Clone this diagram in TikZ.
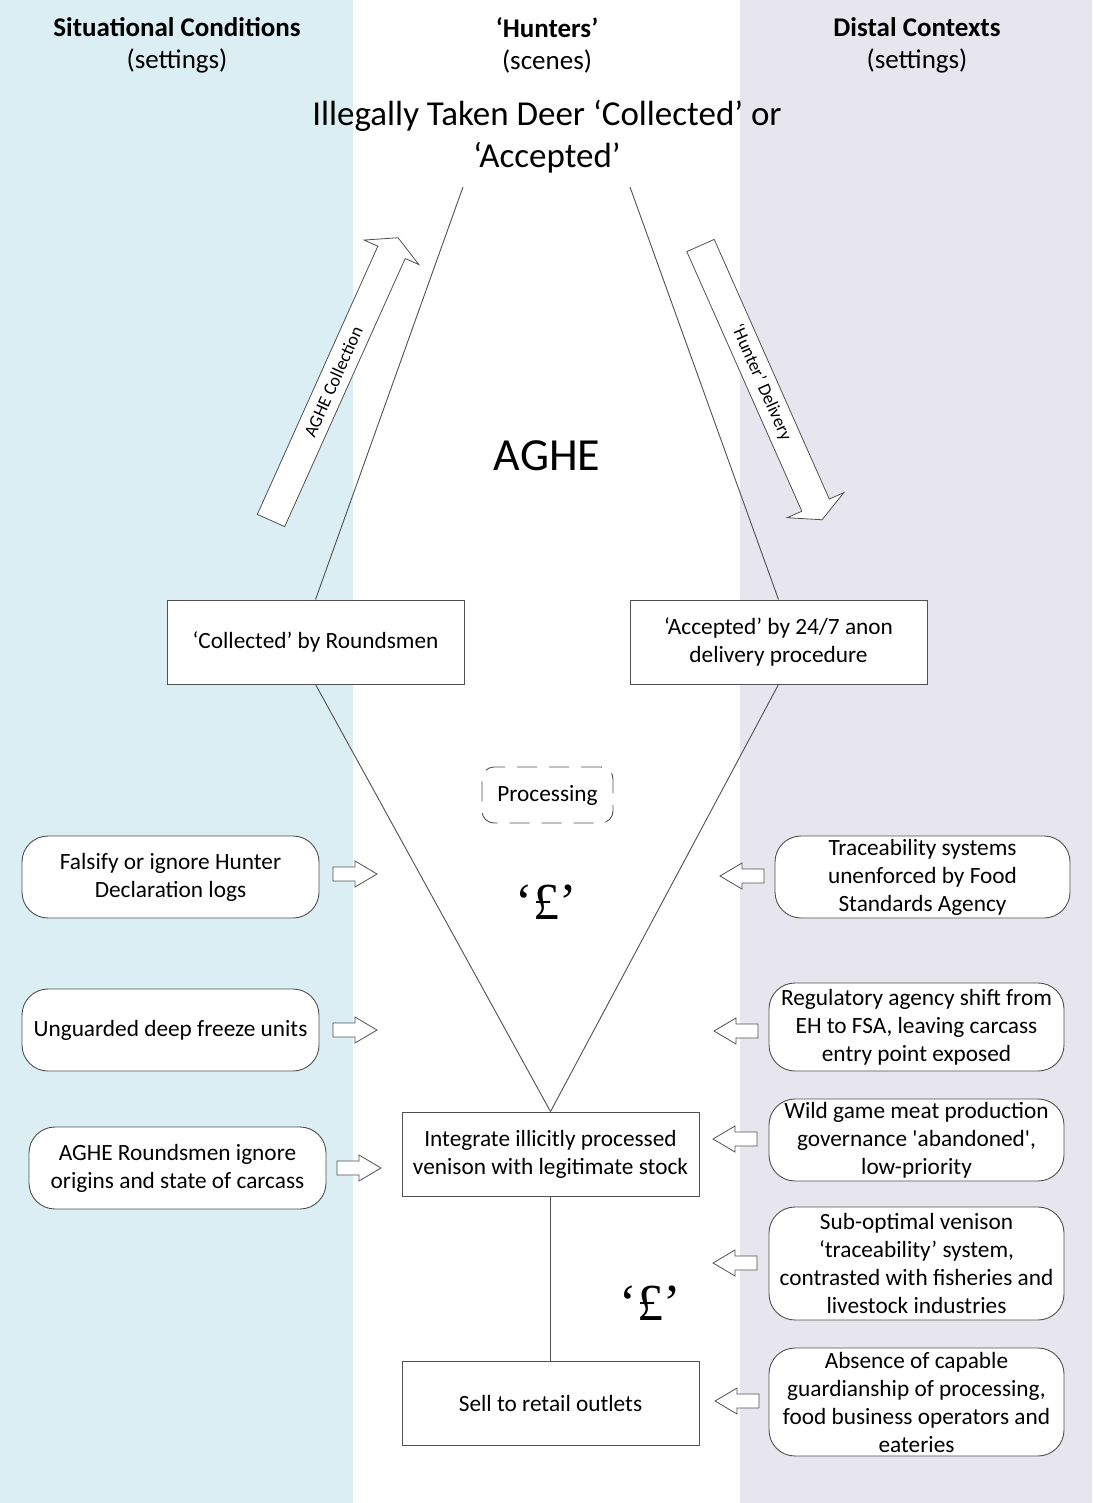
\documentclass[tikz,border=0pt]{standalone}
\usepackage{fontspec}
\setmainfont{Carlito}
\newfontfamily\poundfont{Liberation Serif}
\usetikzlibrary{positioning}

\definecolor{bandblue}{HTML}{DAEEF3}
\definecolor{bandlilac}{HTML}{E7E6EF}
\definecolor{edge}{HTML}{505050}

\tikzset{
  body/.style={font=\fontsize{23.3}{28}\selectfont, align=center, text=black},
  sqbox/.style={body, draw=edge, line width=0.9pt, fill=white,
    minimum width=297, minimum height=84, inner sep=2},
  rbox/.style={body, draw=edge, line width=0.9pt, fill=white,
    rounded corners=26, minimum width=297, minimum height=82, inner sep=2},
  wire/.style={draw=edge, line width=0.9pt},
  blockline/.style={draw=edge, line width=0.8pt, fill=white},
  pound/.style={font=\poundfont\fontsize{52}{52}\selectfont},
  head/.style={font=\fontsize{27}{32}\selectfont, align=center},
  arrowtext/.style={font=\fontsize{18}{18}\selectfont, transform shape},
  rarrow/.pic={\draw[blockline] (-22,-7) -- (0,-7) -- (0,-13) -- (22,0)
      -- (0,13) -- (0,7) -- (-22,7) -- cycle;},
  larrow/.pic={\draw[blockline] (22,-7) -- (0,-7) -- (0,-13) -- (-22,0)
      -- (0,13) -- (0,7) -- (22,7) -- cycle;},
}

\begin{document}
\begin{tikzpicture}[x=1pt,y=-1pt]
\useasboundingbox (0,0) rectangle (1092,1503);

% background columns
\fill[bandblue] (0,0) rectangle (353,1503);
\fill[bandlilac] (740,0) rectangle (1092,1503);

% column headings
\node[head] (h1) at (177,45) {\textbf{Situational Conditions}\\(settings)};
\node[head] (h2) at (547,45) {\textbf{‘Hunters’}\\(scenes)};
\node[head] (h3) at (917,45) {\textbf{Distal Contexts}\\(settings)};

\node[font=\fontsize{35}{42}\selectfont, align=center] (title) at (547,137)
  {Illegally Taken Deer ‘Collected’ or\\‘Accepted’};

% the two routes
\coordinate (tl) at (463,187);
\coordinate (tr) at (630,187);

\node[sqbox] (coll) at (315.5,642) {‘Collected’ by Roundsmen};
\node[sqbox] (acc) at (778.5,642) {‘Accepted’ by 24/7 anon\\delivery procedure};
\node[sqbox] (integ) at (550.5,1154) {Integrate illicitly processed\\venison with legitimate stock};
\node[sqbox] (sell) at (550.5,1403.5) {Sell to retail outlets};

\draw[wire] (tl) -- (coll.north);
\draw[wire] (tr) -- (acc.north);
\draw[wire] (coll.south) -- (integ.north);
\draw[wire] (acc.south) -- (integ.north);
\draw[wire] (integ.south) -- (sell.north);

\node[font=\fontsize{46}{46}\selectfont] (aghe) at (547,456) {AGHE};

\node[body, draw=edge, line width=0.9pt, dash pattern=on 20pt off 12pt,
  rounded corners=12, minimum width=131, minimum height=56] (proc) at (547.5,795) {Processing};

\node[pound] (p1) at (546,902) {‘£’};
\node[pound] (p2) at (650,1303) {‘£’};

% large block arrows
\begin{scope}[shift={(271,520.5)}, rotate=65.8]
  \draw[blockline] (0,-15) -- (294,-15) -- (294,-30) -- (310,0) -- (294,30)
    -- (294,15) -- (0,15) -- cycle;
  \node[arrowtext] (coltext) at (152,0) {AGHE Collection};
\end{scope}
\begin{scope}[shift={(700.5,245.5)}, rotate=-66.1]
  \draw[blockline] (0,-15) -- (284,-15) -- (284,-31) -- (300,0) -- (284,31)
    -- (284,15) -- (0,15) -- cycle;
  \node[arrowtext] (deltext) at (150,0) {‘Hunter’ Delivery};
\end{scope}

% situational conditions
\node[rbox] (s1) at (170.5,877) {Falsify or ignore Hunter\\Declaration logs};
\node[rbox] (s2) at (170.5,1030) {Unguarded deep freeze units};
\node[rbox] (s3) at (177.5,1168) {AGHE Roundsmen ignore\\origins and state of carcass};

\pic at (355,874) {rarrow};
\pic at (355,1030) {rarrow};
\pic at (359,1168) {rarrow};

% distal contexts
\node[rbox, minimum width=295] (d1) at (922.5,877) {Traceability systems\\unenforced by Food\\Standards Agency};
\node[rbox, minimum width=295, minimum height=88] (d2) at (916.5,1027) {Regulatory agency shift from\\EH to FSA, leaving carcass\\entry point exposed};
\node[rbox, minimum width=295] (d3) at (916.5,1140) {Wild game meat production\\governance \textquotesingle abandoned\textquotesingle,\\low-priority};
\node[rbox, minimum width=295, minimum height=113] (d4) at (916.5,1263.5) {Sub-optimal venison\\‘traceability’ system,\\contrasted with fisheries and\\livestock industries};
\node[rbox, minimum width=295, minimum height=108] (d5) at (916.5,1402) {Absence of capable\\guardianship of processing,\\food business operators and\\eateries};

\pic at (742,876) {larrow};
\pic at (736,1031) {larrow};
\pic at (735,1139) {larrow};
\pic at (735,1263) {larrow};
\pic at (737,1401) {larrow};

\end{tikzpicture}
\end{document}
